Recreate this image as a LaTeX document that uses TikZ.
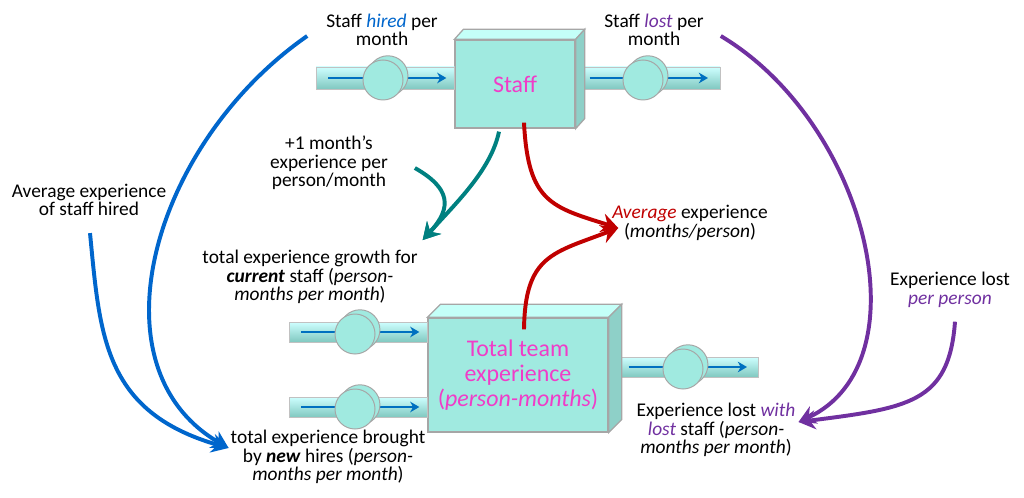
\documentclass[tikz,border=0pt]{standalone}
\usepackage{fontspec}
\setmainfont{Carlito}
\usetikzlibrary{positioning, arrows.meta, shadows}

\definecolor{stockfront}{RGB}{160,234,224}
\definecolor{stocktop}{RGB}{196,255,248}
\definecolor{stockside}{RGB}{142,208,200}
\definecolor{boxline}{RGB}{166,166,166}
\definecolor{pipetop}{RGB}{206,255,255}
\definecolor{pipebot}{RGB}{128,200,192}
\definecolor{flowblue}{RGB}{0,112,192}
\definecolor{stockname}{RGB}{240,60,200}
\definecolor{hireblue}{RGB}{0,102,204}
\definecolor{lostpurple}{RGB}{112,48,160}
\definecolor{avgred}{RGB}{192,0,0}
\definecolor{growteal}{RGB}{0,128,128}

\begin{document}
\begin{tikzpicture}[x=0.025cm, y=-0.025cm,
lbl/.style={align=center, inner sep=2pt, font=\fontsize{13.8}{13.2}\selectfont},
stock/.style={rectangle, draw=boxline, fill=stockfront, line width=0.9pt, align=center, text=stockname, font=\fontsize{17}{17.7}\selectfont},
valve/.style={circle, draw=boxline, fill=stockfront, minimum size=1cm, inner sep=0pt, line width=0.7pt, copy shadow={shadow xshift=3.5pt, shadow yshift=3pt, draw=boxline, fill=stockfront, line width=0.7pt}},
pipe/.style={top color=pipetop, bottom color=pipebot, draw=boxline!70, line width=0.5pt},
flow/.style={-{Stealth[length=6.5pt, width=7.5pt, inset=2pt]}, flowblue, line width=1.8pt},
infl/.style={-{Stealth[length=12pt, width=13.5pt, inset=4pt]}, line width=2.8pt}
]
\useasboundingbox (0,0) rectangle (1024,498);

\coordinate (hiresrc) at (316,78);
\coordinate (losssink) at (720,78);
\coordinate (growsrc) at (289,332);
\coordinate (newsrc) at (289,407);
\coordinate (outsink) at (758,367);

\node[stock, minimum width=3cm, minimum height=2.2cm] (staffbox) at (515,84) {};
\node[stock, minimum width=4.5cm, minimum height=2.85cm] (teambox) at (518,375) {};

\coordinate (hiresink) at (hiresrc -| staffbox.west);
\coordinate (lossrc) at (losssink -| staffbox.east);
\coordinate (growsink) at (growsrc -| teambox.west);
\coordinate (newsink) at (newsrc -| teambox.west);
\coordinate (outsrc) at (outsink -| teambox.east);

\shade[pipe] ([shift={(0,-11)}]hiresrc) rectangle ([shift={(0,11)}]hiresink);
\shade[pipe] ([shift={(0,-11)}]lossrc) rectangle ([shift={(0,11)}]losssink);
\shade[pipe] ([shift={(0,-10)}]growsrc) rectangle ([shift={(0,10)}]growsink);
\shade[pipe] ([shift={(0,-10)}]newsrc) rectangle ([shift={(0,10)}]newsink);
\shade[pipe] ([shift={(0,-10)}]outsrc) rectangle ([shift={(0,10)}]outsink);

\draw[flow] ([shift={(12,0)}]hiresrc) -- ([shift={(-8,0)}]hiresink);
\draw[flow] ([shift={(14,0)}]lossrc) -- ([shift={(-12,0)}]losssink);
\draw[flow] ([shift={(12,0)}]growsrc) -- ([shift={(-8,0)}]growsink);
\draw[flow] ([shift={(12,0)}]newsrc) -- ([shift={(-8,0)}]newsink);
\draw[flow] ([shift={(20,0)}]outsrc) -- ([shift={(-11,0)}]outsink);

\node[valve] (hirevalve) at (383,80) {};
\node[valve] (lossvalve) at (643,80) {};
\node[valve] (growvalve) at (355,334) {};
\node[valve] (newvalve) at (355,409) {};
\node[valve] (outvalve) at (683,369) {};

\filldraw[fill=stocktop, draw=boxline, line width=0.9pt] (staffbox.north west) -- ++(9,-10) -- ([shift={(9,-10)}]staffbox.north east) -- (staffbox.north east) -- cycle;
\filldraw[fill=stockside, draw=boxline, line width=0.9pt] (staffbox.north east) -- ++(9,-10) -- ([shift={(9,-10)}]staffbox.south east) -- (staffbox.south east) -- cycle;
\filldraw[fill=stocktop, draw=boxline, line width=0.9pt] (teambox.north west) -- ++(13,-13) -- ([shift={(13,-13)}]teambox.north east) -- (teambox.north east) -- cycle;
\filldraw[fill=stockside, draw=boxline, line width=0.9pt] (teambox.north east) -- ++(13,-13) -- ([shift={(13,-13)}]teambox.south east) -- (teambox.south east) -- cycle;

\node[text=stockname, font=\fontsize{17}{17.7}\selectfont] (staffname) at (staffbox.center) {Staff};
\node[text=stockname, align=center, font=\fontsize{17}{17.7}\selectfont] (teamname) at (teambox.center) {Total team\\experience\\(\textit{person-months})};

\node[lbl] (hired) at (382,30) {Staff \textcolor{hireblue}{\textit{hired}} per\\month};
\node[lbl] (lost) at (654,30) {Staff \textcolor{lostpurple}{\textit{lost}} per\\month};
\node[lbl] (monthly) at (329,163) {+1 month's\\experience per\\person/month};
\node[lbl] (avghired) at (89,200) {Average experience\\of staff hired};
\node[lbl] (growth) at (310,277) {total experience growth for\\\textbf{\textit{current}} staff (\textit{person-}\\\textit{months per month})};
\node[lbl] (avgexp) at (690,223) {\textcolor{avgred}{\textit{Average}} experience\\(\textit{months/person})};
\node[lbl] (perperson) at (950,290) {Experience lost\\\textcolor{lostpurple}{\textit{per person}}};
\node[lbl] (lostwith) at (716,430) {Experience lost \textcolor{lostpurple}{\textit{with}}\\\textcolor{lostpurple}{\textit{lost}} staff (\textit{person-}\\\textit{months per month})};
\node[lbl] (brought) at (328,457) {total experience brought\\by \textbf{\textit{new}} hires (\textit{person-}\\\textit{months per month})};

\draw[infl, hireblue] ([shift={(-16,6)}]hired.west) .. controls (152,144) and (89,368) .. ([shift={(1,-9)}]brought.west);
\draw[infl, hireblue] ([shift={(1,14)}]avghired.south) .. controls (100,335) and (103,412) .. ([shift={(1,-9)}]brought.west);
\draw[infl, growteal] ([shift={(-16,3)}]staffbox.south) .. controls (491,170) and (456,203) .. ([shift={(2,-7)}]growth.north east);
\draw[infl, growteal] ([shift={(24,5)}]monthly.east) .. controls (450,188) and (453,207) .. ([shift={(2,-7)}]growth.north east);
\draw[infl, avgred] ([shift={(9,-6)}]staffbox.south) .. controls (528,202) and (551,207) .. ([shift={(9,5)}]avgexp.west);
\draw[infl, avgred] ([shift={(6,12)}]teambox.north) .. controls (525,255) and (553,253) .. ([shift={(9,5)}]avgexp.west);
\draw[infl, lostpurple] ([shift={(14,6)}]lost.east) .. controls (867,123) and (926,363) .. ([shift={(0,-8)}]lostwith.east);
\draw[infl, lostpurple] ([shift={(5,11)}]perperson.south) .. controls (949,403) and (909,408) .. ([shift={(0,-8)}]lostwith.east);

\end{tikzpicture}
\end{document}
